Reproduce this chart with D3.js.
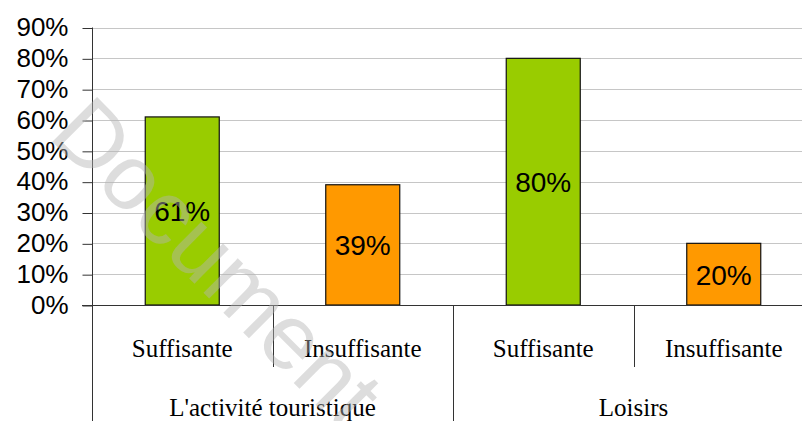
<!DOCTYPE html>
<html>
<head>
<meta charset="utf-8">
<script src="https://cdn.jsdelivr.net/npm/d3@7"></script>
<style>
  body { margin: 0; background: #fff; }
  svg { display: block; }
</style>
</head>
<body>
<svg id="chart"></svg>
<script>
// data
const groups = ["L'activité touristique", "Loisirs"];
const levels = ["Suffisante", "Insuffisante"];
const suffisante = [61, 80];
const insuffisante = [39, 20];
const yTicks = [0, 10, 20, 30, 40, 50, 60, 70, 80, 90];
const barColors = ["#99cc00", "#ff9900"];

const width = 802, height = 421;
const margin = { top: 27.5, left: 92, right: -12, bottom: 116 };
const plotBottom = height - margin.bottom;

const svg = d3.select("#chart").attr("width", width).attr("height", height);

// scales
const x0 = d3.scaleBand().domain(groups).range([margin.left, width - margin.right]).padding(0);
const x1 = d3.scaleBand().domain(levels).range([0, x0.bandwidth()]).padding(0);
const y = d3.scaleLinear().domain([0, 90]).range([plotBottom, margin.top]);

const barW = x1.bandwidth() * 0.41;

// gridlines
svg.append("g")
  .selectAll("line")
  .data(yTicks.filter(d => d > 0))
  .join("line")
    .attr("x1", margin.left).attr("x2", width)
    .attr("y1", d => Math.round(y(d)) + 0.5).attr("y2", d => Math.round(y(d)) + 0.5)
    .attr("stroke", "#c6c6c6").attr("stroke-width", 1);

// y axis
const yAxis = d3.axisLeft(y).tickValues(yTicks).tickSize(10).tickPadding(14)
  .tickFormat(d => d + "%");
const yAxisG = svg.append("g")
  .attr("transform", `translate(${margin.left + 0.5},0)`)
  .call(yAxis);
yAxisG.select(".domain").remove();
yAxisG.selectAll(".tick line").attr("stroke", "#333").attr("transform", "translate(0,0.5)");
yAxisG.selectAll(".tick text")
  .attr("fill", "#000")
  .style("font-family", "'Liberation Sans', Arial, sans-serif")
  .style("font-size", "26px");

// bars
const rows = groups.map((g, i) => [
  { group: g, level: levels[0], value: suffisante[i] },
  { group: g, level: levels[1], value: insuffisante[i] }
]).flat();

const barG = svg.append("g");
barG.selectAll("rect")
  .data(rows)
  .join("rect")
    .attr("x", d => x0(d.group) + x1(d.level) + (x1.bandwidth() - barW) / 2)
    .attr("y", d => y(d.value))
    .attr("width", barW)
    .attr("height", d => y(0) - y(d.value))
    .attr("fill", d => barColors[levels.indexOf(d.level)])
    .attr("stroke", "#111").attr("stroke-width", 1.2);

barG.selectAll("text")
  .data(rows)
  .join("text")
    .attr("x", d => x0(d.group) + x1(d.level) + x1.bandwidth() / 2)
    .attr("y", d => (y(d.value) + y(0)) / 2 + 1)
    .attr("text-anchor", "middle")
    .attr("dominant-baseline", "central")
    .style("font-family", "'Liberation Sans', Arial, sans-serif")
    .style("font-size", "28px")
    .attr("fill", "#000")
    .text(d => d.value + "%");

// axis lines
svg.append("line")
  .attr("x1", margin.left - 10).attr("x2", width)
  .attr("y1", Math.round(plotBottom) + 0.5).attr("y2", Math.round(plotBottom) + 0.5)
  .attr("stroke", "#333");
svg.append("line")
  .attr("x1", margin.left + 0.5).attr("x2", margin.left + 0.5)
  .attr("y1", y(90)).attr("y2", height)
  .attr("stroke", "#333");

// two level category axis
const catG = svg.append("g").attr("class", "cat-axis");
const serif = "'Liberation Serif', 'Times New Roman', serif";

groups.forEach(g => {
  const gx = x0(g);
  // group separator (full height)
  catG.append("line")
    .attr("x1", Math.round(gx + x0.bandwidth()) + 0.5).attr("x2", Math.round(gx + x0.bandwidth()) + 0.5)
    .attr("y1", plotBottom).attr("y2", height)
    .attr("stroke", "#333");
  // separator between levels (short)
  catG.append("line")
    .attr("x1", Math.round(gx + x1(levels[1])) + 0.5).attr("x2", Math.round(gx + x1(levels[1])) + 0.5)
    .attr("y1", plotBottom).attr("y2", 367)
    .attr("stroke", "#333");
  levels.forEach(l => {
    catG.append("text")
      .attr("x", gx + x1(l) + x1.bandwidth() / 2)
      .attr("y", 356.5)
      .attr("text-anchor", "middle")
      .style("font-family", serif)
      .style("font-size", "25px")
      .text(l);
  });
  catG.append("text")
    .attr("x", gx + x0.bandwidth() / 2)
    .attr("y", 416)
    .attr("text-anchor", "middle")
    .style("font-family", serif)
    .style("font-size", "25px")
    .text(g);
});

// watermark (cut at the bottom edge, as in the original)
svg.append("text")
  .attr("transform", "translate(218,262) rotate(45)")
  .attr("text-anchor", "middle")
  .attr("dominant-baseline", "central")
  .style("font-family", "'Liberation Sans', Arial, sans-serif")
  .style("font-size", "92px")
  .attr("fill", "#b4b4b4")
  .attr("fill-opacity", 0.45)
  .text("Document");
</script>
</body>
</html>
